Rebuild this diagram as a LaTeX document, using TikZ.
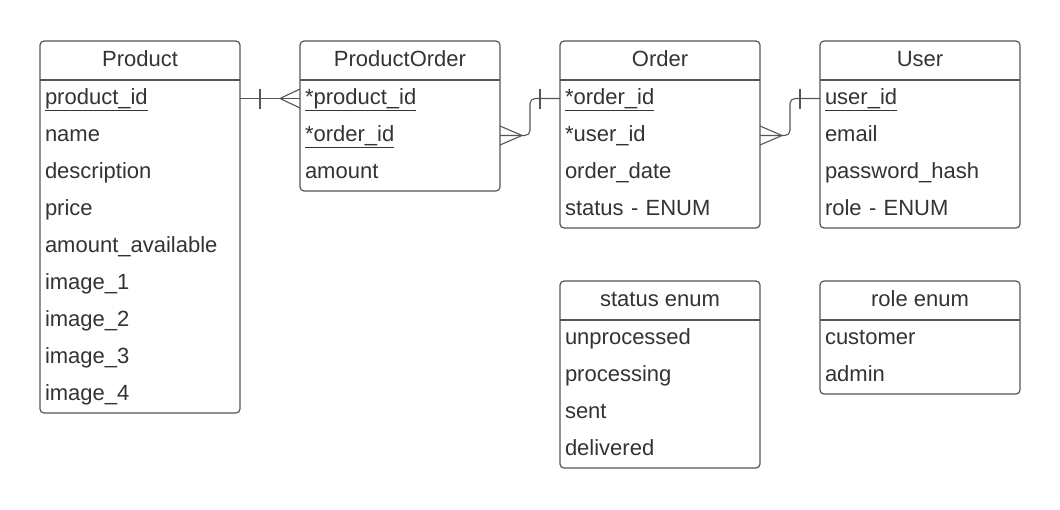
\documentclass[tikz,border=0pt]{standalone}
\usepackage{fontspec}
\setmainfont{Liberation Sans}
\usetikzlibrary{positioning,calc}
\definecolor{linegray}{HTML}{555555}
\definecolor{textgray}{HTML}{333333}

\begin{document}
\begin{tikzpicture}[x=1pt,y=-1pt,
  every node/.style={outer sep=0pt,text=textgray,font=\fontsize{22}{26}\selectfont},
  head/.style={minimum width=200pt,minimum height=39pt,inner sep=0pt,text height=16pt,text depth=5pt},
  field/.style={text width=190pt,inner xsep=5pt,inner ysep=0pt,minimum height=37pt,text height=16pt,text depth=5pt,align=left},
  tablebox/.style={draw=linegray,line width=1.2pt,rounded corners=4pt},
  rel/.style={draw=linegray,line width=1.1pt}]
  \useasboundingbox (0,0) rectangle (1060,509);

  % Product
  \node[head] (product) at (140,60.5) {Product};
  \node[field,below=0pt of product] (pid) {\underline{product\_id}};
  \node[field,below=0pt of pid] (pname) {name};
  \node[field,below=0pt of pname] (pdesc) {description};
  \node[field,below=0pt of pdesc] (pprice) {price};
  \node[field,below=0pt of pprice] (pamount) {amount\_available};
  \node[field,below=0pt of pamount] (pimg1) {image\_1};
  \node[field,below=0pt of pimg1] (pimg2) {image\_2};
  \node[field,below=0pt of pimg2] (pimg3) {image\_3};
  \node[field,below=0pt of pimg3] (pimg4) {image\_4};
  \draw[tablebox] (product.north west) rectangle (pimg4.south east);
  \draw[tablebox] (product.south west) -- (product.south east);

  % ProductOrder
  \node[head] (porder) at (400,60.5) {ProductOrder};
  \node[field,below=0pt of porder] (popid) {\underline{*product\_id}};
  \node[field,below=0pt of popid] (pooid) {\underline{*order\_id}};
  \node[field,below=0pt of pooid] (poamount) {amount};
  \draw[tablebox] (porder.north west) rectangle (poamount.south east);
  \draw[tablebox] (porder.south west) -- (porder.south east);

  % Order
  \node[head] (order) at (660,60.5) {Order};
  \node[field,below=0pt of order] (ooid) {\underline{*order\_id}};
  \node[field,below=0pt of ooid] (ouid) {*user\_id};
  \node[field,below=0pt of ouid] (odate) {order\_date};
  \node[field,below=0pt of odate] (ostatus) {status - ENUM};
  \draw[tablebox] (order.north west) rectangle (ostatus.south east);
  \draw[tablebox] (order.south west) -- (order.south east);

  % User
  \node[head] (user) at (920,60.5) {User};
  \node[field,below=0pt of user] (uid) {\underline{user\_id}};
  \node[field,below=0pt of uid] (uemail) {email};
  \node[field,below=0pt of uemail] (upass) {password\_hash};
  \node[field,below=0pt of upass] (urole) {role - ENUM};
  \draw[tablebox] (user.north west) rectangle (urole.south east);
  \draw[tablebox] (user.south west) -- (user.south east);

  % status enum
  \node[head] (senum) at (660,300.5) {status enum};
  \node[field,below=0pt of senum] (sunproc) {unprocessed};
  \node[field,below=0pt of sunproc] (sproc) {processing};
  \node[field,below=0pt of sproc] (ssent) {sent};
  \node[field,below=0pt of ssent] (sdeliv) {delivered};
  \draw[tablebox] (senum.north west) rectangle (sdeliv.south east);
  \draw[tablebox] (senum.south west) -- (senum.south east);

  % role enum
  \node[head] (renum) at (920,300.5) {role enum};
  \node[field,below=0pt of renum] (rcust) {customer};
  \node[field,below=0pt of rcust] (radmin) {admin};
  \draw[tablebox] (renum.north west) rectangle (radmin.south east);
  \draw[tablebox] (renum.south west) -- (renum.south east);

  % Product -- ProductOrder
  \draw[rel] (pid.east) -- (popid.west);
  \draw[rel] ($(pid.east)+(20,-10)$) -- ++(0,20);
  \draw[rel] ($(popid.west)+(0,-9.5)$) -- ($(popid.west)+(-20,0)$) -- ($(popid.west)+(0,9.5)$);

  % ProductOrder -- Order
  \draw[rel,rounded corners=5pt] (pooid.east) -- ($(pooid.east)+(30,0)$) |- (ooid.west);
  \draw[rel] ($(pooid.east)+(0,-9.5)$) -- ($(pooid.east)+(22,0)$) -- ($(pooid.east)+(0,9.5)$);
  \draw[rel] ($(ooid.west)+(-20,-10)$) -- ++(0,20);

  % Order -- User
  \draw[rel,rounded corners=5pt] (ouid.east) -- ($(ouid.east)+(30,0)$) |- (uid.west);
  \draw[rel] ($(ouid.east)+(0,-9.5)$) -- ($(ouid.east)+(22,0)$) -- ($(ouid.east)+(0,9.5)$);
  \draw[rel] ($(uid.west)+(-20,-10)$) -- ++(0,20);
\end{tikzpicture}
\end{document}
